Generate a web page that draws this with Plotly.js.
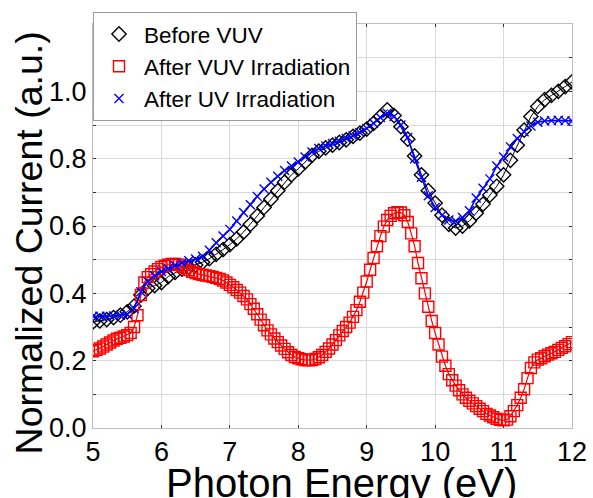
<!DOCTYPE html>
<html>
<head>
<meta charset="utf-8">
<script src="https://cdn.plot.ly/plotly-3.0.1.min.js"></script>
<style>html,body{margin:0;padding:0;background:#fff;}#chart{width:593px;height:498px;}</style>
</head>
<body>
<div id="chart"></div>
<script>
// Photon energy grids (eV)
var energyCoarse = [5.0,5.1,5.2,5.3,5.4,5.5,5.6,5.7,5.8,5.9,6.0,6.1,6.2,6.3,6.4,6.5,6.6,6.7,6.8,6.9,
  7.0,7.1,7.2,7.3,7.4,7.5,7.6,7.7,7.8,7.9,8.0,8.1,8.2,8.3,8.4,8.5,8.6,8.7,8.8,8.9,
  9.0,9.1,9.2,9.3,9.4,9.5,9.6,9.7,9.8,9.9,10.0,10.1,10.2,10.3,10.4,10.5,10.6,10.7,10.8,10.9,
  11.0,11.1,11.2,11.3,11.4,11.5,11.6,11.7,11.8,11.9,12.0];

var energyFine = [5.00,5.05,5.10,5.15,5.20,5.25,5.30,5.35,5.40,5.45,5.50,5.55,5.60,5.65,5.70,5.75,5.80,5.85,5.90,5.95,
  6.00,6.05,6.10,6.15,6.20,6.25,6.30,6.35,6.40,6.45,6.50,6.55,6.60,6.65,6.70,6.75,6.80,6.85,6.90,6.95,
  7.00,7.05,7.10,7.15,7.20,7.25,7.30,7.35,7.40,7.45,7.50,7.55,7.60,7.65,7.70,7.75,7.80,7.85,7.90,7.95,
  8.00,8.05,8.10,8.15,8.20,8.25,8.30,8.35,8.40,8.45,8.50,8.55,8.60,8.65,8.70,8.75,8.80,8.85,8.90,8.95,
  9.00,9.05,9.10,9.15,9.20,9.25,9.30,9.35,9.40,9.45,9.50,9.55,9.60,9.65,9.70,9.75,9.80,9.85,9.90,9.95,
  10.00,10.05,10.10,10.15,10.20,10.25,10.30,10.35,10.40,10.45,10.50,10.55,10.60,10.65,10.70,10.75,10.80,10.85,10.90,10.95,
  11.00,11.05,11.10,11.15,11.20,11.25,11.30,11.35,11.40,11.45,11.50,11.55,11.60,11.65,11.70,11.75,11.80,11.85,11.90,11.95,12.00];

// Before VUV (black diamonds)
var beforeVUV = [0.315,0.318,0.322,0.328,0.335,0.345,0.362,0.395,0.415,0.423,
  0.432,0.450,0.462,0.472,0.478,0.484,0.492,0.503,0.516,0.530,
  0.545,0.562,0.582,0.605,0.630,0.655,0.680,0.705,0.730,0.752,
  0.770,0.790,0.810,0.822,0.832,0.840,0.848,0.856,0.866,0.876,
  0.888,0.905,0.925,0.945,0.928,0.895,0.858,0.808,0.752,0.705,
  0.668,0.632,0.605,0.594,0.600,0.615,0.638,0.665,0.692,0.718,
  0.752,0.795,0.840,0.885,0.925,0.955,0.975,0.988,1.000,1.014,1.028];

// After VUV Irradiation (red squares)
var afterVUV = [0.228,0.232,0.236,0.242,0.248,0.254,0.260,0.265,0.268,0.272,0.276,0.282,0.300,0.335,0.395,0.432,0.448,0.457,0.465,0.472,
  0.478,0.482,0.485,0.487,0.487,0.485,0.480,0.475,0.469,0.464,0.460,0.457,0.455,0.453,0.451,0.449,0.446,0.443,0.438,0.432,
  0.425,0.418,0.410,0.402,0.392,0.382,0.368,0.354,0.338,0.322,0.305,0.290,0.278,0.266,0.255,0.245,0.235,0.225,0.217,0.211,
  0.207,0.204,0.202,0.201,0.202,0.205,0.210,0.217,0.226,0.236,0.248,0.261,0.275,0.288,0.300,0.313,0.330,0.350,0.375,0.402,
  0.435,0.470,0.505,0.540,0.570,0.598,0.618,0.630,0.638,0.641,0.640,0.632,0.612,0.578,0.540,0.490,0.445,0.400,0.360,0.318,
  0.282,0.248,0.212,0.185,0.160,0.142,0.126,0.112,0.100,0.090,0.081,0.073,0.065,0.057,0.050,0.042,0.037,0.032,0.027,0.024,
  0.023,0.025,0.035,0.050,0.068,0.090,0.115,0.148,0.178,0.195,0.203,0.207,0.213,0.218,0.222,0.226,0.232,0.238,0.243,0.249,0.255];

// After UV Irradiation (blue crosses)
var afterUV = [0.332,0.332,0.332,0.333,0.335,0.338,0.355,0.405,0.435,0.452,
  0.465,0.474,0.483,0.490,0.497,0.502,0.510,0.528,0.550,0.570,
  0.590,0.615,0.640,0.663,0.688,0.710,0.730,0.748,0.765,0.778,
  0.790,0.805,0.820,0.830,0.838,0.845,0.852,0.860,0.868,0.878,
  0.890,0.905,0.922,0.935,0.925,0.900,0.863,0.800,0.745,0.690,
  0.655,0.632,0.618,0.615,0.625,0.645,0.683,0.712,0.740,0.778,
  0.805,0.835,0.860,0.880,0.897,0.908,0.912,0.913,0.914,0.913,0.912];

var seriesNames = ["Before VUV", "After VUV Irradiation", "After UV Irradiation"];
var xTitle = "Photon Energy (eV)";
var yTitle = "Normalized Current (a.u.)";
var yTickVals = [0.0, 0.2, 0.4, 0.6, 0.8, 1.0];
var yTickText = ["0.0", "0.2", "0.4", "0.6", "0.8", "1.0"];
var xTickVals = [5, 6, 7, 8, 9, 10, 11, 12];

var FONT = "Liberation Sans, Arial, Helvetica, sans-serif";
var GRID = "#d9d9d9";

function lineTrace(x, y, color, width, name) {
  return {x: x, y: y, name: name, type: "scatter", mode: "lines", showlegend: false,
          hoverinfo: "skip", line: {color: color, width: width}};
}
function markerTrace(x, y, color, symbol, size, name) {
  return {x: x, y: y, name: name, type: "scatter", mode: "markers",
          marker: {symbol: symbol, size: size, color: color, line: {width: 1.4, color: color}}};
}

var traces = [
  lineTrace(energyCoarse, beforeVUV, "#000000", 1, seriesNames[0]),
  markerTrace(energyCoarse, beforeVUV, "#000000", "diamond-open", 11, seriesNames[0]),
  lineTrace(energyFine, afterVUV, "#ff0000", 1.2, seriesNames[1]),
  markerTrace(energyFine, afterVUV, "#ff0000", "square-open", 11, seriesNames[1]),
  lineTrace(energyCoarse, afterUV, "#0000ff", 1.6, seriesNames[2]),
  markerTrace(energyCoarse, afterUV, "#0000ff", "x-thin-open", 9, seriesNames[2])
];

var layout = {
  width: 593, height: 498,
  margin: {l: 93, r: 21, t: 14, b: 70},
  paper_bgcolor: "#ffffff", plot_bgcolor: "#ffffff",
  font: {family: FONT, color: "#000000"},
  showlegend: true,
  legend: {x: 0, y: 1.03, xanchor: "left", yanchor: "top", bgcolor: "#ffffff",
           bordercolor: "#9a9a9a", borderwidth: 1,
           font: {family: FONT, size: 22.5, color: "#000000"},
           itemwidth: 40, tracegroupgap: 0},
  xaxis: {
    range: [5, 12], tickmode: "array", tickvals: xTickVals,
    showgrid: true, gridcolor: GRID, gridwidth: 1, zeroline: false,
    showline: true, linecolor: "#bdbdbd", linewidth: 1, mirror: "ticks",
    ticks: "inside", ticklen: 3, tickcolor: "#333333",
    tickfont: {family: FONT, size: 27, color: "#000000"}
  },
  yaxis: {
    range: [0, 1.2], tickmode: "array", tickvals: yTickVals, ticktext: yTickText,
    showgrid: true, gridcolor: GRID, gridwidth: 1, zeroline: false,
    showline: true, linecolor: "#bdbdbd", linewidth: 1, mirror: "ticks",
    ticks: "inside", ticklen: 3, tickcolor: "#333333",
    minor: {tick0: 0, dtick: 0.1, showgrid: true, gridcolor: GRID, gridwidth: 1, ticks: "inside", ticklen: 3, tickcolor: "#333333"},
    tickfont: {family: FONT, size: 27, color: "#000000"}
  },
  annotations: [
    {text: xTitle, xref: "paper", yref: "paper", x: 0.518, y: -0.137, xanchor: "center", yanchor: "middle",
     showarrow: false, font: {family: FONT, size: 40, color: "#000000"}},
    {text: yTitle, xref: "paper", yref: "paper", x: -0.134, y: 0.459, xanchor: "center", yanchor: "middle",
     textangle: -90, showarrow: false, font: {family: FONT, size: 37.5, color: "#000000"}}
  ]
};

Plotly.newPlot("chart", traces, layout, {displayModeBar: false, staticPlot: true});
</script>
</body>
</html>
